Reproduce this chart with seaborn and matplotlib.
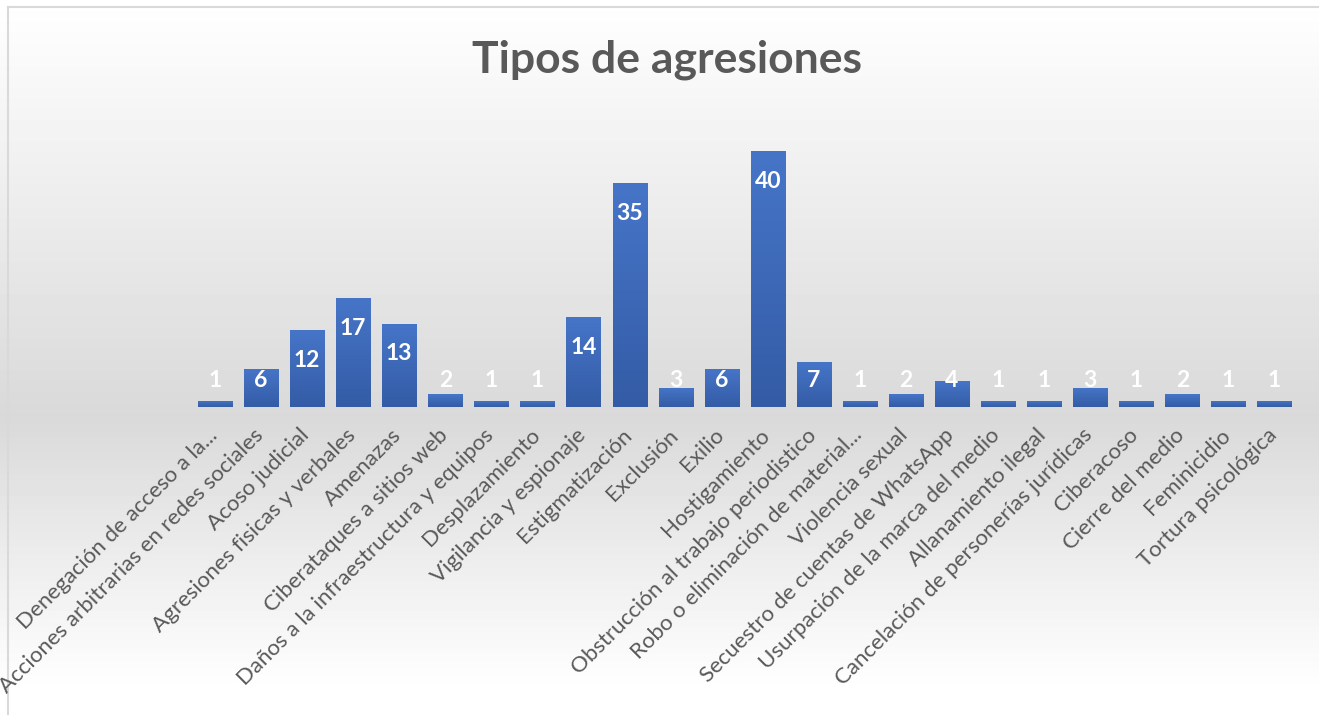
import numpy as np
import seaborn as sns
import matplotlib.pyplot as plt
import matplotlib.transforms as mtransforms
from matplotlib.colors import LinearSegmentedColormap

categorias = [
    'Denegación de acceso a la...',
    'Acciones arbitrarias en redes sociales',
    'Acoso judicial',
    'Agresiones fisicas y verbales',
    'Amenazas',
    'Ciberataques a sitios web',
    'Daños a la infraestructura y equipos',
    'Desplazamiento',
    'Vigilancia y espionaje',
    'Estigmatización',
    'Exclusión',
    'Exilio',
    'Hostigamiento',
    'Obstrucción al trabajo periodistico',
    'Robo o eliminación de material...',
    'Violencia sexual',
    'Secuestro de cuentas de WhatsApp',
    'Usurpación de la marca del medio',
    'Allanamiento ilegal',
    'Cancelación de personerías jurídicas',
    'Ciberacoso',
    'Cierre del medio',
    'Feminicidio',
    'Tortura psicológica',
]
valores = [1, 6, 12, 17, 13, 2, 1, 1, 14, 35, 3, 6, 40, 7, 1, 2, 4, 1, 1, 3, 1, 2, 1, 1]
titulo = 'Tipos de agresiones'

W, H = 1319, 715
fig = plt.figure(figsize=(W / 100, H / 100), dpi=100)
plt.rcParams['font.family'] = ['Lato', 'DejaVu Sans']

# fondo con degradado (blanco -> gris -> blanco)
bg = fig.add_axes([0, 0, 1, 1], zorder=-10)
yy = np.arange(H)
g = np.interp(yy, [0, 415, 690, H], [255, 217, 255, 255]) / 255
bg.imshow(np.repeat(g[:, None], 2, axis=1), cmap='gray', vmin=0, vmax=1,
          aspect='auto', extent=[0, W, H, 0])
bg.plot([8, 8], [7, H], color='#d9d9d9', lw=1.5)
bg.plot([8, W], [7, 7], color='#d9d9d9', lw=1.5)
bg.set_xlim(0, W)
bg.set_ylim(H, 0)
bg.axis('off')

left, right, base, top = 192, 1297.5, 407, 119
ax = fig.add_axes([left / W, (H - base) / H, (right - left) / W, (base - top) / H])
ax.patch.set_alpha(0)

sns.barplot(x=categorias, y=valores, ax=ax, color='#4472c4', width=0.74, saturation=1)

cmap = LinearSegmentedColormap.from_list('bar', ['#4675c8', '#345ca6'])
grad = np.linspace(0, 1, 100)[:, None]
for p in ax.patches:
    x0, y0, w, h = p.get_x(), p.get_y(), p.get_width(), p.get_height()
    im = ax.imshow(grad, cmap=cmap, aspect='auto', extent=[x0, x0 + w, y0, y0 + h],
                   zorder=p.get_zorder() + 0.1, origin='upper')
    im.set_clip_path(p)

ax.set_xlim(-0.5, len(categorias) - 0.5)
ax.set_ylim(0, 45)

for i, v in enumerate(valores):
    ax.text(i, max(v - 4.7, 4.2), str(v), ha='center', va='center', color='white',
            fontsize=16.5, fontweight='bold', zorder=5)

for s in ax.spines.values():
    s.set_visible(False)
ax.set_yticks([])
ax.tick_params(axis='x', length=0, pad=0)
off = mtransforms.ScaledTranslation(-8 / 100, -18 / 100, fig.dpi_scale_trans)
for lab in ax.get_xticklabels():
    lab.set_rotation(45)
    lab.set_ha('right')
    lab.set_va('top')
    lab.set_rotation_mode('anchor')
    lab.set_fontsize(16)
    lab.set_color('#595959')
    lab.set_transform(lab.get_transform() + off)
ax.set_xlabel('')
ax.set_ylabel('')

fig.text(667.5 / W, 1 - 73 / H, titulo, ha='center', va='baseline', fontsize=32,
         fontweight='bold', color='#595959')

plt.savefig('out.png', dpi=100)
